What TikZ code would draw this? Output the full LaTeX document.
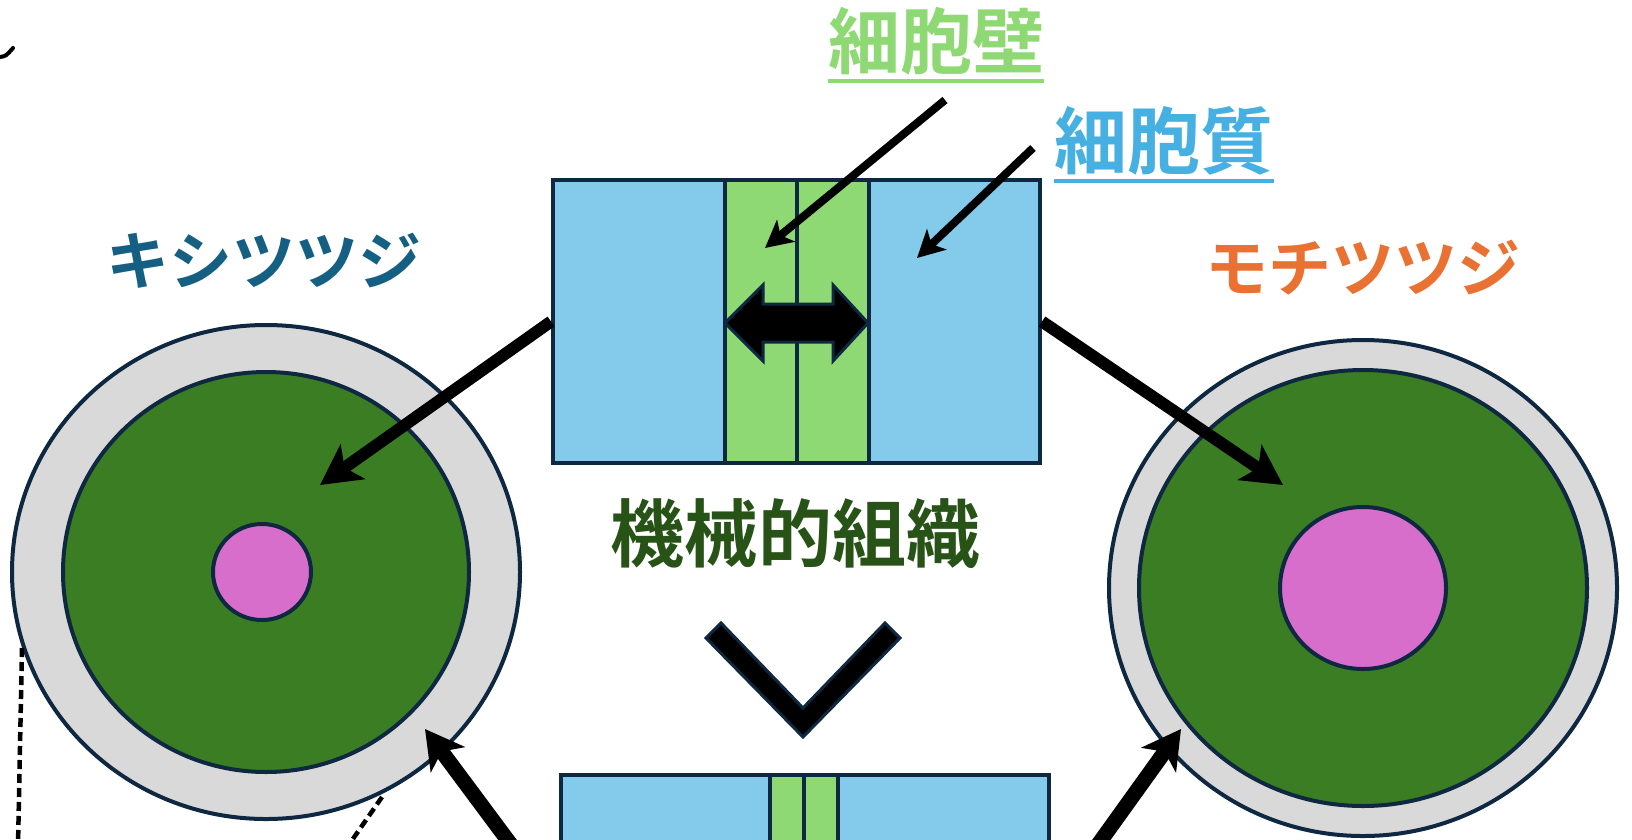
\documentclass[tikz,border=0pt]{standalone}
\usepackage{fontspec}
\newfontfamily\jp{Noto Sans CJK JP Bold}
\usetikzlibrary{arrows.meta}

\definecolor{cytoplasm}{HTML}{83CAEB}
\definecolor{wall}{HTML}{8ED973}
\definecolor{cellgreen}{HTML}{3B7D23}
\definecolor{cellgray}{HTML}{D9D9D9}
\definecolor{nucleus}{HTML}{D86ECC}
\definecolor{edge}{HTML}{0E2841}
\definecolor{kishi}{HTML}{156082}
\definecolor{mochi}{HTML}{E97132}
\definecolor{tissue}{HTML}{275317}
\definecolor{cytotext}{HTML}{45B0E1}

\begin{document}
\begin{tikzpicture}[x=1pt, y=-1pt,
  outline/.style={draw=edge, line width=4pt},
  box/.style={outline, fill=cytoplasm, inner sep=0pt},
  band/.style={outline, fill=wall, inner sep=0pt},
  label/.style={font=\jp, inner sep=0pt},
  bigarrow/.style={line width=12pt, -{Stealth[length=40pt, width=42pt, inset=10pt]}},
  fatarrow/.style={line width=15pt, -{Stealth[length=38pt, width=42pt, inset=10pt]}},
  thinarrow/.style={line width=8pt, -{Stealth[length=27pt, width=28pt, inset=7pt]}},
  guideline/.style={line width=4.5pt, dash pattern=on 9pt off 5pt}]

\useasboundingbox (0,0) rectangle (1632,839);
\clip (0,0) rectangle (1632,839);

% Centres of the two cells
\coordinate (K) at (266,572);
\coordinate (M) at (1363,588);

% Cell of the left plant: wall, cytoplasm, nucleus
\draw[outline, fill=cellgray] (K) ellipse [x radius=254, y radius=247];
\draw[outline, fill=cellgreen] (K) ellipse [x radius=203, y radius=200];
\draw[outline, fill=nucleus] ([xshift=-4pt]K) ellipse [x radius=49, y radius=48];

% Cell of the right plant: thinner wall, bigger nucleus
\draw[outline, fill=cellgray] (M) ellipse [x radius=254, y radius=248];
\draw[outline, fill=cellgreen] (M) ellipse [x radius=224, y radius=218];
\draw[outline, fill=nucleus] (M) ellipse [x radius=83, y radius=81];

% Names of the two plants
\node[label, font=\jp\fontsize{63}{63}\selectfont, text=kishi] (kname) at (264,261) {キシツツジ};
\node[label, font=\jp\fontsize{63}{63}\selectfont, text=mochi] (mname) at (1363,268) {モチツツジ};

% Section through two neighbouring cells, thick wall
\node[box, minimum width=487pt, minimum height=283pt] (top) at (796.5,321.5) {};
\node[band, minimum width=144pt, minimum height=283pt] (topwall) at (797,321.5) {};
\draw[outline] (topwall.north) -- (topwall.south);

% Section through two neighbouring cells, thin wall
\node[box, minimum width=488pt, minimum height=160pt] (bottom) at (805,855) {};
\node[band, minimum width=68pt, minimum height=160pt] (bottomwall) at (804,855) {};
\draw[outline] (bottomwall.north) -- (bottomwall.south);

% Double arrow across the thick wall
\begin{scope}[shift={(797,323)}]
  \draw[draw=edge, line width=3pt, fill=black]
    (-72,0) -- (-34,-38) -- (-34,-19) -- (36,-19) -- (36,-38) -- (71,0)
    -- (36,38) -- (36,19) -- (-34,19) -- (-34,38) -- cycle;
\end{scope}

% Labels of the wall and the cytoplasm, underlined
\node[label, font=\jp\fontsize{72}{72}\selectfont, text=wall] (wallname) at (936,41) {細胞壁};
\draw[wall, line width=4pt] ([yshift=-6pt]wallname.south west) -- ([yshift=-6pt]wallname.south east);
\node[label, font=\jp\fontsize{73}{73}\selectfont, text=cytotext] (cytoname) at (1164,141) {細胞質};
\draw[cytotext, line width=4pt] ([yshift=-5pt]cytoname.south west) -- ([yshift=-5pt]cytoname.south east);

\coordinate (wallstart) at (945,100);
\coordinate (walltip) at (765,248);
\coordinate (cytostart) at (1033,148);
\coordinate (cytotip) at (917,258);
\draw[thinarrow] (wallstart) -- (walltip);
\draw[thinarrow] (cytostart) -- (cytotip);

% Arrows from the sections to the cells
\coordinate (ktip) at (320,485);
\coordinate (mtip) at (1283,485);
\draw[bigarrow] (top.west) -- (ktip);
\draw[bigarrow] (top.east) -- (mtip);

\coordinate (kfoot) at (512,846);
\coordinate (kwall) at (425,729);
\coordinate (mfoot) at (1097,846);
\coordinate (mwall) at (1181,729);
\draw[fatarrow] (kfoot) -- (kwall);
\draw[fatarrow] (mfoot) -- (mwall);

% Tissue name and the chevron below it
\node[label, font=\jp\fontsize{74}{74}\selectfont, text=tissue] (tissuename) at (795,534) {機械的組織};
\begin{scope}[shift={(803,680)}]
  \draw[draw=edge, line width=3pt, fill=black]
    (-97,-42) -- (-82,-57) -- (0,28) -- (82,-57) -- (97,-42) -- (0,57) -- cycle;
\end{scope}

% Dashed guide lines and the stroke at the corner
\draw[guideline] (22,648) -- (18,846);
\draw[guideline] (382,797) -- (348,846);
\draw[line width=4pt, line cap=round] (0,57) .. controls (6,56) .. (13,48);

\end{tikzpicture}
\end{document}
